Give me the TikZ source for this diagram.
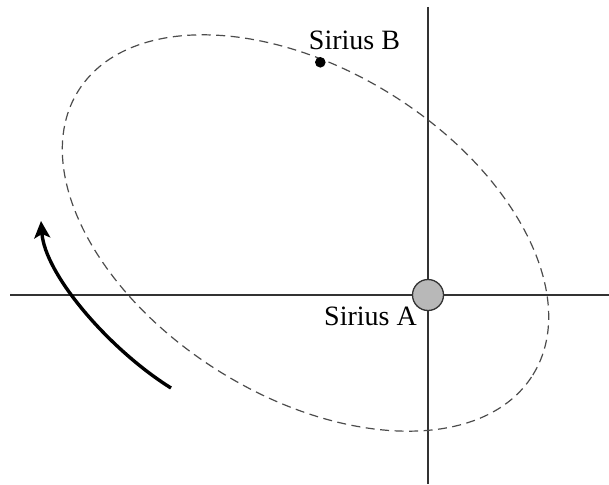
\documentclass[tikz,border=0pt]{standalone}
\usepackage{fontspec}
\setmainfont{Liberation Serif}
\usetikzlibrary{arrows.meta}
\begin{document}
\begin{tikzpicture}[x=1pt,y=1pt,
  axis/.style={line width=1.8pt,draw=black!80},
  orbit/.style={line width=1.2pt,draw=black!70,dash pattern=on 9pt off 5.5pt},
  lbl/.style={font=\fontsize{28}{30}\selectfont,inner sep=0pt}]
\useasboundingbox (0,0) rectangle (609,-484);
\coordinate (hl) at (10,-295);
\coordinate (hr) at (609,-295);
\coordinate (vt) at (428,-7);
\coordinate (vb) at (428,-484);
\draw[axis] (hl) -- (hr);
\draw[axis] (vt) -- (vb);
\draw[orbit,rotate around={-32:(305.5,-233)}] (305.5,-233) ellipse [x radius=268, y radius=163];
\node[circle,minimum size=31pt,inner sep=0pt,fill=black!28,draw=black!80,line width=1.3pt] (A) at (428,-295) {};
\node[circle,minimum size=10.6pt,inner sep=0pt,fill=black] (B) at (320.3,-62.3) {};
\node[lbl,anchor=base] (la) at (370.5,-325) {Sirius A};
\node[lbl,anchor=base] (lb) at (354.5,-49.3) {Sirius B};
\coordinate (s) at (171,-388);
\coordinate (e) at (41,-221);
\draw[line width=3.4pt,-{Stealth[length=17pt,width=16pt,inset=4pt]}] (s) .. controls (110,-350) and (45,-275) .. (e);
\end{tikzpicture}
\end{document}
